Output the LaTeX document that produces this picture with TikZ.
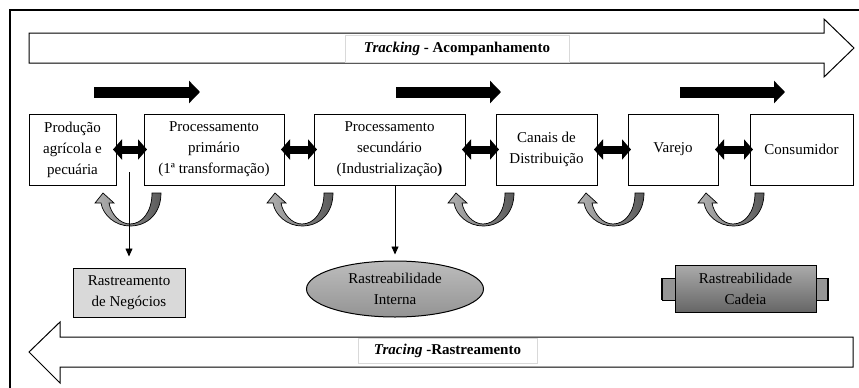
\documentclass[tikz,border=0pt]{standalone}
\usepackage{fontspec}
\setmainfont{Liberation Serif}
\usetikzlibrary{arrows.meta,shapes.geometric}
\begin{document}
\begin{tikzpicture}[x=1pt,y=-1pt,
 txt/.style={font=\fontsize{15}{21}\selectfont, align=center},
 stage/.style={txt, draw, line width=1pt, inner sep=0pt, minimum height=71pt},
 dbl/.style={line width=8pt, {Triangle[length=9pt,width=20pt]}-{Triangle[length=9pt,width=20pt]}, shorten <=-3.5pt, shorten >=-3.5pt},
 flow/.style={line width=11pt, -{Triangle[length=11pt,width=22pt]}},
 tline/.style={line width=0.8pt, -{Triangle[length=8pt,width=7pt]}},
 hollow/.style={draw, line width=1pt, fill=white, line join=miter},
 lab/.style={font=\fontsize{15}{18}\selectfont\bfseries, fill=white, draw=black!15, line width=0.6pt, inner sep=0pt},
 uturn/.pic={
  \path[draw, line width=0.7pt, left color=black!30, right color=black!65, line join=miter]
   (31,-33) .. controls (31,-12) and (17,0) .. (0,0)
   .. controls (-15,0) and (-27,-11) .. (-29,-23)
   -- (-35,-23) -- (-27,-33) -- (-16,-23) -- (-21,-23)
   .. controls (-19,-12) and (-10,-2) .. (0,-2)
   .. controls (12,-2) and (22,-14) .. (22,-33) -- cycle;
 },
]
\useasboundingbox (0,0) rectangle (859,388);
% frame
\draw[line width=1.2pt] (10,388) -- (10,10) -- (859,10);

% big hollow arrows
\draw[hollow] (29,33) -- (824,33) -- (824,19) -- (854,48) -- (824,77) -- (824,63) -- (29,63) -- cycle;
\draw[hollow] (853,337) -- (60,337) -- (60,322) -- (29,352) -- (60,383) -- (60,367) -- (853,367) -- cycle;
\node[lab, minimum width=224pt, minimum height=27pt] (trk) at (457,48.5) {\textit{Tracking} - Acompanhamento};
\node[lab, minimum width=179pt, minimum height=25pt] (trc) at (447.5,351) {\textit{Tracing} -Rastreamento};

% flow arrows
\coordinate (f1a) at (94,92); \coordinate (f1b) at (200,92);
\coordinate (f2a) at (396,92); \coordinate (f2b) at (501,92);
\coordinate (f3a) at (680,92); \coordinate (f3b) at (785,92);
\draw[flow] (f1a) -- (f1b);
\draw[flow] (f2a) -- (f2b);
\draw[flow] (f3a) -- (f3b);

% stages
\node[stage, minimum width=87pt] (b1) at (72.5,149.5) {Produção\\agrícola e\\pecuária};
\node[stage, minimum width=140pt] (b2) at (214,149.5) {Processamento\\primário\\(1ª transformação)};
\node[stage, minimum width=151pt] (b3) at (389.5,149.5) {Processamento\\secundário\\(Industrialização\textbf{)}};
\node[stage, minimum width=101pt] (b4) at (546.5,149.5) {Canais de\\Distribuição};
\node[stage, minimum width=90pt] (b5) at (673,149.5) {Varejo};
\node[stage, minimum width=103pt] (b6) at (801.5,149.5) {Consumidor};

\draw[dbl] (b1.east) -- (b2.west);
\draw[dbl] (b2.east) -- (b3.west);
\draw[dbl] (b3.east) -- (b4.west);
\draw[dbl] (b4.east) -- (b5.west);
\draw[dbl] (b5.east) -- (b6.west);

% u-turn arrows
\pic at (130,226) {uturn};
\pic at (302,226) {uturn};
\pic at (483,226) {uturn};
\pic at (613,226) {uturn};
\pic at (733,226) {uturn};

% bottom items
\node[txt, draw, line width=1pt, fill=black!15, minimum width=112pt, minimum height=49pt, inner sep=0pt] (neg) at (129,292.5) {Rastreamento\\de Negócios};
\node[txt, ellipse, draw, line width=1pt, top color=black!26, bottom color=black!42, minimum width=177pt, minimum height=56pt, inner sep=0pt] (int) at (395,289) {Rastreabilidade\\Interna};
\draw[line width=0.7pt, fill=black!42] (662,278) rectangle (828,300);
\draw[line width=1.4pt] (662,278) -- (662,300) (828,278) -- (828,300);
\node[txt, draw, line width=1pt, top color=black!33, bottom color=black!60, minimum width=141pt, minimum height=47pt, inner sep=0pt] (cad) at (745.5,288.5) {Rastreabilidade\\Cadeia};

% thin arrows
\coordinate (v1) at (129,172);
\draw[tline] (v1) -- ([yshift=11pt]neg.north);
\draw[tline] (int.north |- b3.south) -- ([yshift=6pt]int.north);
\end{tikzpicture}
\end{document}
